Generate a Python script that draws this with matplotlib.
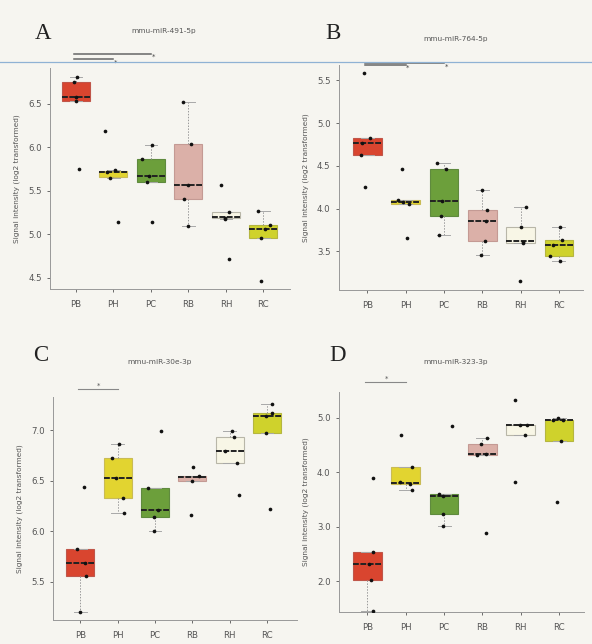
import matplotlib
matplotlib.use("Agg")
import matplotlib.pyplot as plt
from matplotlib.lines import Line2D

groups = ["PB", "PH", "PC", "RB", "RH", "RC"]
fills = ["#d9452f", "#e2d430", "#6c9f3b", "#dbb0a8", "#f8f6e6", "#cfd22c"]
edges = ["#c0564a", "#c9bb55", "#5f8a3e", "#c49a94", "#b8b6a8", "#b5b640"]

# Panel A: mmu-miR-491-5p
a_q1 = [6.53, 5.66, 5.60, 5.40, 5.19, 4.96]
a_med = [6.58, 5.71, 5.67, 5.56, 5.20, 5.06]
a_q3 = [6.75, 5.73, 5.87, 6.04, 5.25, 5.11]
a_lo = [6.53, 5.65, 5.60, 5.10, 5.17, 4.96]
a_hi = [6.81, 5.74, 6.03, 6.52, 5.25, 5.27]
a_pts = [[6.81, 6.75, 6.58, 6.53, 5.75],
         [6.19, 5.74, 5.65, 5.72, 5.14],
         [6.03, 5.87, 5.60, 5.67, 5.14],
         [6.52, 6.04, 5.56, 5.40, 5.10],
         [5.57, 5.25, 5.19, 5.17, 4.72],
         [5.27, 5.11, 5.06, 4.96, 4.46]]
a_jit = [[0.04, -0.05, 0.0, 0.0, 0.08],
         [-0.22, 0.05, -0.09, -0.18, 0.13],
         [0.04, -0.25, -0.11, -0.04, 0.02],
         [-0.15, 0.07, -0.02, -0.13, -0.02],
         [-0.13, 0.07, -0.02, -0.03, 0.09],
         [-0.15, 0.18, 0.04, -0.06, -0.06]]
a_ticks = [4.5, 5.0, 5.5, 6.0, 6.5]

# Panel B: mmu-miR-764-5p
b_q1 = [4.63, 4.05, 3.91, 3.62, 3.60, 3.45]
b_med = [4.77, 4.08, 4.09, 3.86, 3.62, 3.58]
b_q3 = [4.83, 4.10, 4.46, 3.98, 3.79, 3.63]
b_lo = [4.63, 4.05, 3.69, 3.46, 3.60, 3.39]
b_hi = [4.83, 4.10, 4.54, 4.22, 4.02, 3.79]
b_pts = [[5.59, 4.83, 4.77, 4.63, 4.25],
         [4.47, 4.10, 4.08, 4.05, 3.66],
         [4.54, 4.46, 4.09, 3.91, 3.69],
         [4.22, 3.98, 3.86, 3.62, 3.46],
         [4.02, 3.79, 3.60, 3.61, 3.15],
         [3.79, 3.63, 3.58, 3.45, 3.39]]
b_jit = [[-0.09, 0.06, -0.13, -0.16, -0.06],
         [-0.1, -0.19, -0.07, 0.09, 0.04],
         [-0.17, 0.06, -0.04, -0.07, -0.13],
         [0.0, 0.13, 0.09, 0.06, -0.02],
         [0.14, 0.0, 0.07, 0.07, -0.02],
         [0.02, 0.09, -0.16, -0.23, 0.02]]
b_ticks = [3.5, 4.0, 4.5, 5.0, 5.5]

# Panel C: mmu-miR-30e-3p
c_q1 = [5.56, 6.33, 6.14, 6.50, 6.68, 6.97]
c_med = [5.68, 6.53, 6.21, 6.54, 6.79, 7.14]
c_q3 = [5.82, 6.73, 6.43, 6.55, 6.93, 7.17]
c_lo = [5.20, 6.18, 6.00, 6.50, 6.68, 6.97]
c_hi = [5.82, 6.86, 6.43, 6.55, 6.99, 7.26]
c_pts = [[5.82, 5.56, 5.68, 6.44, 5.20],
         [6.86, 6.73, 6.53, 6.33, 6.18],
         [6.99, 6.43, 6.21, 6.14, 6.00],
         [6.64, 6.55, 6.50, 6.16],
         [6.99, 6.93, 6.79, 6.68, 6.36],
         [7.26, 7.17, 7.14, 6.97, 6.22]]
c_jit = [[-0.09, 0.16, 0.13, 0.11, 0.0],
         [0.04, -0.15, -0.04, 0.15, 0.16],
         [0.16, -0.2, 0.09, -0.03, -0.04],
         [0.01, 0.18, 0.0, -0.04],
         [0.07, 0.12, -0.12, 0.2, 0.25],
         [0.13, 0.13, -0.04, -0.03, 0.07]]
c_ticks = [5.5, 6.0, 6.5, 7.0]

# Panel D: mmu-miR-323-3p
d_q1 = [2.02, 3.79, 3.24, 4.31, 4.68, 4.57]
d_med = [2.32, 3.80, 3.56, 4.33, 4.86, 4.95]
d_q3 = [2.54, 4.10, 3.61, 4.51, 4.86, 4.95]
d_lo = [1.45, 3.68, 3.01, 4.31, 4.68, 4.57]
d_hi = [2.54, 4.10, 3.61, 4.63, 4.86, 5.00]
d_pts = [[2.54, 2.32, 2.02, 3.90, 1.45],
         [4.69, 4.10, 3.82, 3.79, 3.68],
         [4.85, 3.61, 3.56, 3.24, 3.01],
         [4.63, 4.51, 4.31, 4.33, 2.89],
         [5.32, 4.86, 4.86, 4.68, 3.82],
         [5.00, 4.95, 4.95, 4.57, 3.45]]
d_jit = [[0.15, 0.04, 0.09, 0.16, 0.16],
         [-0.13, 0.16, -0.16, 0.10, 0.17],
         [0.22, -0.13, -0.03, -0.04, -0.02],
         [0.11, -0.04, -0.13, 0.09, 0.09],
         [-0.15, -0.03, 0.16, 0.11, -0.16],
         [-0.04, 0.09, -0.15, 0.04, -0.06]]
d_ticks = [2.0, 3.0, 4.0, 5.0]

panels = [
    dict(letter="A", title="mmu-miR-491-5p", q1=a_q1, med=a_med, q3=a_q3, lo=a_lo, hi=a_hi,
         pts=a_pts, jit=a_jit, ticks=a_ticks, fmt="{:.1f}",
         rect=[0.0845, 0.5512, 0.4054, 0.3432], xlim=(0.31, 6.71), ylim=(4.37, 6.91),
         brackets=[(1, 3, 7.07), (1, 2, 7.01)], star_mid=False,
         letter_xy=(0.059, 0.965), title_xy=(0.276, 0.952)),
    dict(letter="B", title="mmu-miR-764-5p", q1=b_q1, med=b_med, q3=b_q3, lo=b_lo, hi=b_hi,
         pts=b_pts, jit=b_jit, ticks=b_ticks, fmt="{:.1f}",
         rect=[0.5726, 0.5497, 0.4122, 0.3494], xlim=(0.26, 6.63), ylim=(3.05, 5.68),
         brackets=[(1, 3, 5.70), (1, 2, 5.685)], star_mid=False,
         letter_xy=(0.549, 0.964), title_xy=(0.77, 0.939)),
    dict(letter="C", title="mmu-miR-30e-3p", q1=c_q1, med=c_med, q3=c_q3, lo=c_lo, hi=c_hi,
         pts=c_pts, jit=c_jit, ticks=c_ticks, fmt="{:.1f}",
         rect=[0.0895, 0.0373, 0.4122, 0.3463], xlim=(0.27, 6.80), ylim=(5.12, 7.33),
         brackets=[(1, 2, 7.41)], star_mid=True,
         letter_xy=(0.056, 0.464), title_xy=(0.27, 0.438)),
    dict(letter="D", title="mmu-miR-323-3p", q1=d_q1, med=d_med, q3=d_q3, lo=d_lo, hi=d_hi,
         pts=d_pts, jit=d_jit, ticks=d_ticks, fmt="{:.1f}",
         rect=[0.5726, 0.0497, 0.4139, 0.3416], xlim=(0.26, 6.65), ylim=(1.44, 5.47),
         brackets=[(1, 2, 5.65)], star_mid=True,
         letter_xy=(0.556, 0.464), title_xy=(0.77, 0.438)),
]

bg = "#f6f5f0"
fig = plt.figure(figsize=(5.92, 6.44), dpi=100, facecolor=bg)

for p in panels:
    ax = fig.add_axes(p["rect"], facecolor=bg)
    stats = []
    for i, g in enumerate(groups):
        stats.append(dict(label=g, q1=p["q1"][i], med=p["med"][i], q3=p["q3"][i],
                          whislo=p["lo"][i], whishi=p["hi"][i], fliers=[]))
    pos = list(range(1, len(groups) + 1))
    bp = ax.bxp(stats, positions=pos, widths=0.75, patch_artist=True, showfliers=False,
                showcaps=True,
                whiskerprops=dict(color="#9a9a9a", linewidth=0.7, linestyle=(0, (1.5, 1.5))),
                capprops=dict(color="#a8a8a8", linewidth=0.7),
                medianprops=dict(color="#222222", linewidth=1.4, linestyle=(0, (3, 0.8))),
                boxprops=dict(linewidth=0.8))
    for i, box in enumerate(bp["boxes"]):
        box.set_facecolor(fills[i])
        box.set_edgecolor(edges[i])
    for cap in bp["caps"]:
        xd = cap.get_xdata()
        c = (xd[0] + xd[1]) / 2
        cap.set_xdata([c - 0.17, c + 0.17])
    for i, vals in enumerate(p["pts"]):
        xs = [pos[i] + j for j in p["jit"][i]]
        ax.scatter(xs, vals, s=7, color="#111111", zorder=5, linewidths=0)
    ax.set_xlim(*p["xlim"])
    ax.set_ylim(*p["ylim"])
    ax.set_xticks(pos)
    ax.set_xticklabels(groups)
    ax.set_yticks(p["ticks"])
    ax.set_yticklabels([p["fmt"].format(t) for t in p["ticks"]])
    ax.tick_params(axis="both", labelsize=6.2, colors="#555555", length=2, width=0.6, pad=4)
    ax.tick_params(axis="x", pad=6)
    for s in ["top", "right"]:
        ax.spines[s].set_visible(False)
    for s in ["left", "bottom"]:
        ax.spines[s].set_color("#999999")
        ax.spines[s].set_linewidth(0.7)
    ax.set_ylabel("Signal intensity (log2 transformed)", fontsize=5.3, color="#555555", labelpad=6)
    for (g1, g2, y) in p["brackets"]:
        if p["star_mid"]:
            ax.plot([g1 - 0.05, g2 + 0.02], [y, y], color="#888888", linewidth=0.8,
                    clip_on=False, zorder=6)
            ax.text((g1 + g2) / 2, y, "*", fontsize=5, color="#555555",
                    ha="center", va="bottom", clip_on=False)
        else:
            ax.plot([g1 - 0.05, g2], [y, y], color="#666666", linewidth=1.1,
                    clip_on=False, zorder=6)
            ax.text(g2 + 0.06, y, "*", fontsize=5, color="#444444",
                    ha="center", va="top", clip_on=False)
    fig.text(p["letter_xy"][0], p["letter_xy"][1], p["letter"], fontsize=16.5,
             family="Liberation Serif", color="#222222", va="top", ha="left")
    fig.text(p["title_xy"][0], p["title_xy"][1], p["title"], fontsize=5.3,
             color="#555555", ha="center", va="center")

fig.add_artist(Line2D([0, 1], [1 - 61.5 / 644, 1 - 61.5 / 644], transform=fig.transFigure,
                      color="#8fb2d4", linewidth=0.9))

fig.savefig("out.png", dpi=100, facecolor=bg)
